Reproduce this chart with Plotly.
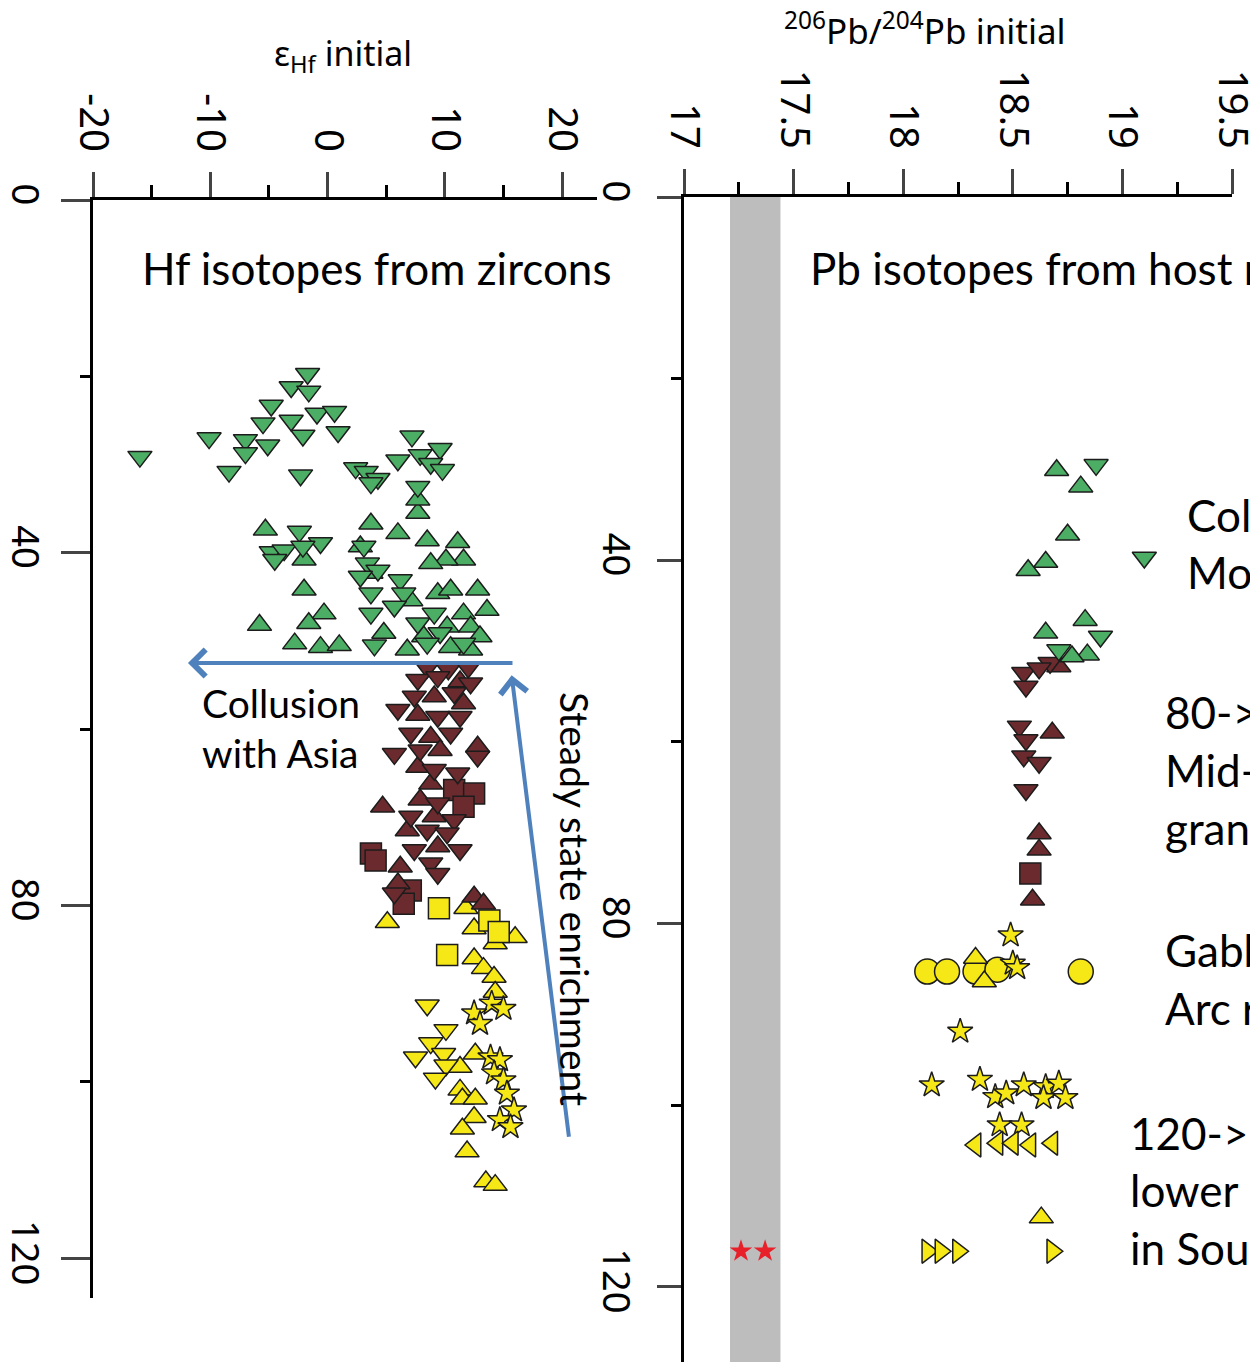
import plotly.graph_objects as go

W, H = 1250, 1362

# ---------------- Left panel: eHf initial vs age ----------------
hf_green_dn_x = [-16.0,-1.7,-3.1,-1.6,-4.8,-0.9,0.6,-3.1,-5.5,-2.1,0.9,-10.1,-7.0,-5.1,-7.0,-8.4,-2.3,7.2,6.0,7.9,9.6,2.4,3.3,4.3,3.7,8.8,9.8,7.7,-2.4,-0.6,-4.8,-3.7,-2.1,-4.5,3.1,3.4,4.3,2.8,3.7,6.2,6.5,5.7,3.7,4.0,7.7,9.1,9.6,8.5,11.6]
hf_green_dn_y = [29.1,19.7,21.2,21.7,23.3,24.2,24.0,25.0,25.3,26.7,26.3,27.0,27.2,27.8,28.7,30.8,31.2,26.8,29.5,28.9,28.2,30.4,30.8,31.6,32.1,29.9,30.6,32.5,37.6,38.9,39.9,39.7,39.3,40.8,39.3,41.2,42.0,42.7,44.6,43.1,44.6,46.1,46.9,50.5,48.0,46.9,49.1,50.3,50.3]
hf_green_up_x = [-5.3,-2.0,3.7,6.0,7.7,7.7,8.5,11.1,11.6,10.1,8.8,-2.0,-0.3,-1.6,-5.8,-2.8,-0.6,1.0,2.8,3.7,4.8,7.1,9.4,10.5,12.8,13.6,11.6,12.2,13.0,10.2,8.2,10.5,12.2,6.8]
hf_green_up_y = [37.4,40.8,36.7,37.8,35.5,34.0,38.6,38.8,40.8,40.8,41.2,44.2,46.9,48.0,48.2,50.3,50.7,50.5,39.3,42.3,49.1,45.4,44.6,44.2,44.2,46.5,46.9,48.4,49.5,48.4,49.5,50.7,51.0,51.0]

hf_maroon_dn_x = [8.5,10.3,12.0,7.7,9.4,12.2,7.4,10.8,6.0,9.4,11.3,7.1,10.5,5.7,7.9,12.8,9.1,11.1,9.4,7.1,10.8,8.5,10.2,11.3,7.4,8.8,9.4,5.7]
hf_maroon_dn_y = [53.0,53.2,53.0,54.4,54.1,54.8,56.3,55.9,57.8,58.6,58.6,60.5,60.5,62.8,62.4,63.1,64.6,65.0,68.4,69.9,70.3,71.5,71.8,73.7,73.7,75.2,76.4,78.6]
hf_maroon_up_x = [11.3,9.1,11.6,7.7,8.8,12.8,9.6,7.7,8.8,7.9,4.7,9.1,6.8,9.4,6.2,6.0,12.5,13.3]
hf_maroon_up_y = [54.6,56.3,57.1,58.4,60.9,62.0,62.4,64.3,66.2,68.0,68.8,69.9,71.5,73.3,75.6,77.5,79.0,79.8]
hf_maroon_sq_x = [10.8,12.5,11.6,3.7,4.1,7.1,6.5]
hf_maroon_sq_y = [66.9,67.3,68.8,74.1,74.9,78.3,79.8]

hf_yellow_up_x = [5.1,11.8,12.5,16.0,14.3,12.5,13.3,14.2,14.3,12.6,11.3,11.3,11.5,12.6,12.5,11.5,11.9,13.5,14.3]
hf_yellow_up_y = [81.9,80.3,82.6,83.6,84.3,86.0,87.1,88.1,89.8,96.8,98.3,100.9,101.9,101.9,104.0,105.3,107.9,111.3,111.7]
hf_yellow_sq_x = [9.5,10.2,13.8,14.6]
hf_yellow_sq_y = [80.3,85.6,81.7,83.0]
hf_yellow_star_x = [14.0,15.0,12.5,13.0,13.9,14.7,14.2,15.0,15.3,15.9,14.7,15.6]
hf_yellow_star_y = [91.1,91.7,92.2,93.4,97.2,97.5,99.0,99.8,101.3,103.2,104.3,105.1]
hf_yellow_dn_x = [8.5,10.1,8.8,7.5,9.9,10.1,9.2]
hf_yellow_dn_y = [91.3,94.1,95.6,97.2,96.8,98.1,99.6]

# ---------------- Right panel: 206Pb/204Pb initial vs age ----------------
pb_green_up_x = [18.70,18.81,18.75,18.65,18.57,18.65,18.83,18.84,18.77]
pb_green_up_y = [30.1,31.9,37.2,40.2,41.1,48.0,46.6,50.4,50.6]
pb_green_dn_x = [18.88,19.10,18.90,18.71]
pb_green_dn_y = [29.5,39.7,48.4,49.9]
pb_maroon_dn_x = [18.55,18.67,18.62,18.56,18.53,18.56,18.55,18.62,18.56]
pb_maroon_dn_y = [52.4,51.3,51.9,53.9,58.3,59.8,61.6,62.3,65.3]
pb_maroon_up_x = [18.71,18.68,18.62,18.62,18.59]
pb_maroon_up_y = [51.7,59.0,70.1,71.9,77.4]
pb_maroon_sq_x = [18.58]
pb_maroon_sq_y = [74.5]
pb_yellow_circ_x = [18.11,18.20,18.33,18.43,18.81]
pb_yellow_circ_y = [85.3,85.3,85.3,85.1,85.3]
pb_yellow_up_x = [18.33,18.37,18.63]
pb_yellow_up_y = [83.8,86.4,112.4]
pb_yellow_star_x = [18.49,18.50,18.52,18.26,18.13,18.35,18.42,18.47,18.55,18.65,18.71,18.64,18.74,18.44,18.54]
pb_yellow_star_y = [81.3,84.4,84.9,91.9,97.8,97.2,99.1,98.7,97.8,98.0,97.6,99.2,99.2,102.2,102.2]
pb_yellow_left_x = [18.33,18.43,18.50,18.58,18.68]
pb_yellow_left_y = [104.4,104.2,104.2,104.4,104.2]
pb_yellow_right_x = [18.11,18.17,18.25,18.68]
pb_yellow_right_y = [116.1,116.1,116.1,116.1]
pb_red_star_x = [17.26,17.37]
pb_red_star_y = [116.1,116.1]

band_x = [17.21, 17.44]

# arrows (data coords on left panel): [tail, head]
arrow_h = dict(x0=15.9, y0=52.5, x1=-11.9, y1=52.5)
arrow_v = dict(x0=20.6, y0=106.4, x1=15.7, y1=53.9)

GREEN = "#4cad64"
MAROON = "#6b2a2d"
YELLOW = "#f6e716"
EDGE = "#1c1c1c"

fig = go.Figure()

def add(xs, ys, sym, col, size, xa="x", ya="y"):
    fig.add_trace(go.Scatter(
        x=xs, y=ys, mode="markers", xaxis=xa, yaxis=ya, showlegend=False,
        hoverinfo="skip", cliponaxis=False,
        marker=dict(symbol=sym, color=col, size=size, line=dict(color=EDGE, width=1.5))))

TRI = 21
# left
add(hf_yellow_up_x, hf_yellow_up_y, "triangle-up", YELLOW, TRI)
add(hf_yellow_dn_x, hf_yellow_dn_y, "triangle-down", YELLOW, TRI)
add(hf_yellow_sq_x, hf_yellow_sq_y, "square", YELLOW, 21)
add(hf_yellow_star_x, hf_yellow_star_y, "star", YELLOW, 19)
add(hf_maroon_sq_x, hf_maroon_sq_y, "square", MAROON, 21)
add(hf_maroon_up_x, hf_maroon_up_y, "triangle-up", MAROON, TRI)
add(hf_maroon_dn_x, hf_maroon_dn_y, "triangle-down", MAROON, TRI)
add(hf_green_up_x, hf_green_up_y, "triangle-up", GREEN, TRI)
add(hf_green_dn_x, hf_green_dn_y, "triangle-down", GREEN, TRI)
# right
add(pb_yellow_circ_x, pb_yellow_circ_y, "circle", YELLOW, 25, "x2", "y2")
add(pb_yellow_up_x, pb_yellow_up_y, "triangle-up", YELLOW, TRI, "x2", "y2")
add(pb_yellow_star_x, pb_yellow_star_y, "star", YELLOW, 19, "x2", "y2")
add(pb_yellow_left_x, pb_yellow_left_y, "triangle-left", YELLOW, TRI, "x2", "y2")
add(pb_yellow_right_x, pb_yellow_right_y, "triangle-right", YELLOW, TRI, "x2", "y2")
add(pb_maroon_sq_x, pb_maroon_sq_y, "square", MAROON, 21, "x2", "y2")
add(pb_maroon_up_x, pb_maroon_up_y, "triangle-up", MAROON, TRI, "x2", "y2")
add(pb_maroon_dn_x, pb_maroon_dn_y, "triangle-down", MAROON, TRI, "x2", "y2")
add(pb_green_up_x, pb_green_up_y, "triangle-up", GREEN, TRI, "x2", "y2")
add(pb_green_dn_x, pb_green_dn_y, "triangle-down", GREEN, TRI, "x2", "y2")
fig.add_trace(go.Scatter(x=pb_red_star_x, y=pb_red_star_y, mode="markers", xaxis="x2", yaxis="y2",
                         showlegend=False, hoverinfo="skip",
                         marker=dict(symbol="star", color="#e8202a", size=17, line=dict(width=0))))

def px(v): return v / W
def py(v): return 1 - v / H

TICKF = dict(family="Noto Sans, Open Sans, sans-serif", size=40, color="black")
TICKFY = dict(family="Noto Sans, Open Sans, sans-serif", size=38, color="black")
common_x = dict(side="top", showline=True, linecolor="black", linewidth=3, ticks="outside",
                tickwidth=3, ticklen=25, tickangle=90, tickfont=TICKF, showgrid=False,
                zeroline=False, ticklabelstandoff=6, fixedrange=True, automargin=False,
                ticklabeloverflow="allow")
common_y = dict(showline=True, linecolor="black", linewidth=3, ticks="outside", tickwidth=3,
                tickangle=90, tickfont=TICKFY, showgrid=False, zeroline=False, automargin=False,
                ticklabeloverflow="allow",
                tickvals=[0, 40, 80, 120], ticktext=["0", "40", "80", "120"], fixedrange=True)

fig.update_layout(
    width=W, height=H, margin=dict(l=0, r=0, t=0, b=0, autoexpand=False),
    paper_bgcolor="white", plot_bgcolor="rgba(0,0,0,0)",
    xaxis=dict(common_x, domain=[px(93), px(597)], range=[-20, 22.98], anchor="y",
               tickvals=[-20, -10, 0, 10, 20], ticktext=["-20", "-10", "0", "10", "20"],
               minor=dict(tickvals=[-15, -5, 5, 15], ticks="outside", ticklen=12, tickwidth=3, tickcolor="black")),
    yaxis=dict(common_y, domain=[py(1298), py(200)], range=[124.5, 0], anchor="x",
               ticklen=29, ticklabelstandoff=3,
               minor=dict(tickvals=[20, 60, 100], ticks="outside", ticklen=10, tickwidth=3, tickcolor="black")),
    xaxis2=dict(common_x, domain=[px(684), px(1232)], range=[17, 19.5], anchor="y2",
                tickvals=[17, 17.5, 18, 18.5, 19, 19.5], ticktext=["17", "17.5", "18", "18.5", "19", "19.5"],
                minor=dict(tickvals=[17.25, 17.75, 18.25, 18.75, 19.25], ticks="outside", ticklen=12,
                           tickwidth=3, tickcolor="black")),
    yaxis2=dict(common_y, domain=[0, py(197)], range=[128.3, 0], anchor="x2",
                ticklen=24, ticklabelstandoff=8,
                minor=dict(tickvals=[20, 60, 100], ticks="outside", ticklen=10, tickwidth=3, tickcolor="black")),
)

# gray band
fig.add_shape(type="rect", xref="x2", yref="y2 domain", x0=band_x[0], x1=band_x[1], y0=0, y1=1,
              fillcolor="#bdbdbd", line=dict(width=0), layer="below")

ARROW = "#4f81bd"
for a in (arrow_h, arrow_v):
    fig.add_annotation(x=a["x1"], y=a["y1"], ax=a["x0"], ay=a["y0"], xref="x", yref="y",
                       axref="x", ayref="y", text="", showarrow=True, arrowhead=4,
                       arrowsize=1.3, arrowwidth=4, arrowcolor=ARROW)

TXT = "Lato, Open Sans, sans-serif"
def label(text, x, y, size=44, angle=0, xanchor="left"):
    fig.add_annotation(text=text, x=px(x), y=py(y), xref="paper", yref="paper",
                       showarrow=False, xanchor=xanchor, yanchor="middle", textangle=angle,
                       font=dict(family=TXT, size=size, color="black"))

label("Hf isotopes from zircons", 140, 268)
label("Pb isotopes from host r", 808, 268)
label("Collusion", 200, 703, 39)
label("with Asia", 200, 753, 39)
label("Steady state enrichment", 575, 899, 39, angle=90, xanchor="center")
label("Col", 1185, 515)
label("Mo", 1185, 572)
label("80->", 1163, 712)
label("Mid-", 1163, 770)
label("gran", 1163, 828)
label("Gabb", 1163, 950)
label("Arc r", 1163, 1008)
label("120->8", 1128, 1133)
label("lower", 1128, 1190)
label("in Sout", 1128, 1248)

AX = "Noto Sans, Open Sans, sans-serif"
fig.add_annotation(text="ε<sub>Hf</sub> initial", x=px(343), y=py(55), xref="paper", yref="paper",
                   showarrow=False, xanchor="center", yanchor="middle",
                   font=dict(family=AX, size=34, color="black"))
fig.add_annotation(text="<sup>206</sup>Pb/<sup>204</sup>Pb initial", x=px(925), y=py(28), xref="paper",
                   yref="paper", showarrow=False, xanchor="center", yanchor="middle",
                   font=dict(family=AX, size=35, color="black"))

fig.write_html("out.html")
